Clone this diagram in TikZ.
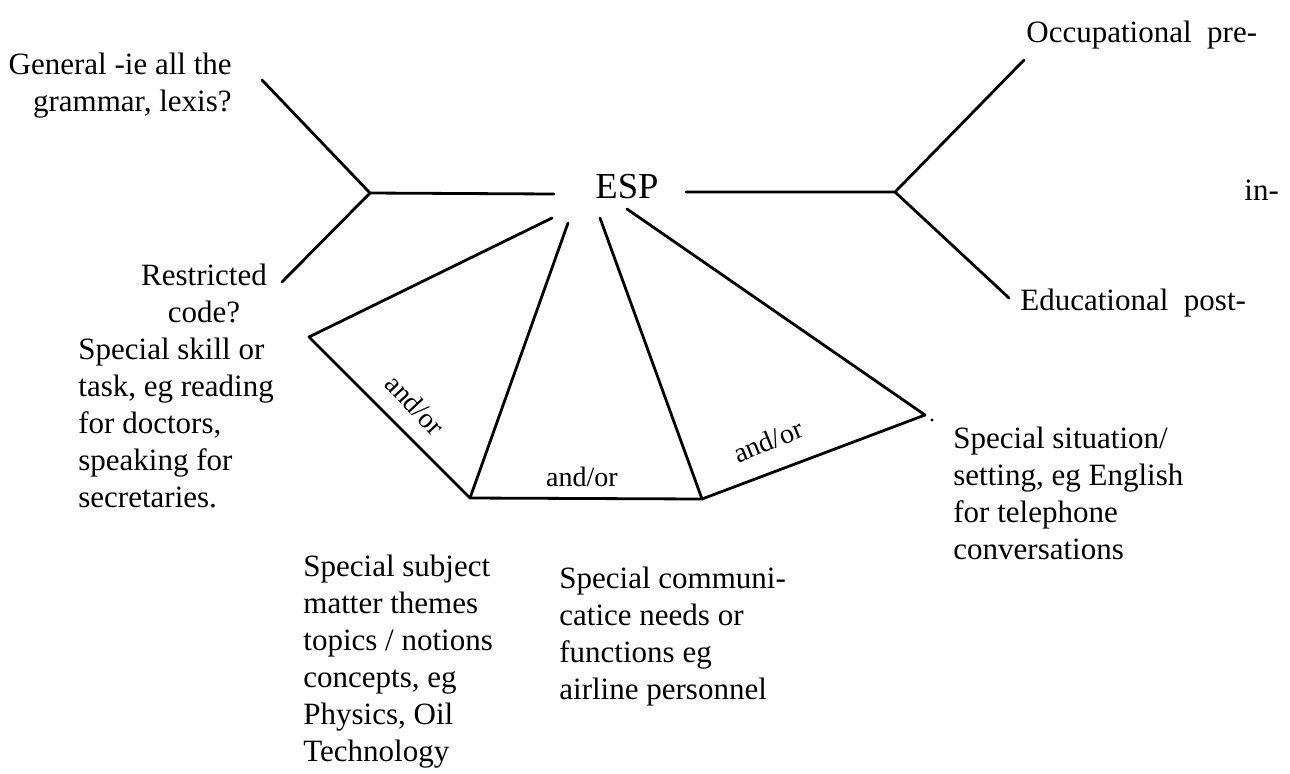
\documentclass[tikz,border=0pt]{standalone}
\usepackage{fontspec}
\setmainfont{Liberation Serif}
\usepackage{tikz}
\usetikzlibrary{positioning}
\tikzset{
  stroke/.style={line width=1.4pt, line cap=round, line join=round},
  lbl/.style={inner sep=0pt, font=\fontsize{15.5}{18.5}\selectfont},
  andor/.style={inner sep=0pt, font=\fontsize{14}{16}\selectfont},
}
\begin{document}
\begin{tikzpicture}[x=0.5pt, y=-0.5pt]
\useasboundingbox (0,0) rectangle (1290,773);
\node[inner sep=0pt, font=\fontsize{18.3}{22}\selectfont] (esp) at (627,187) {ESP};
\node[lbl, anchor=east, align=right] (general) at (232,86) {General -ie all the\\grammar, lexis?};
\node[lbl, align=center] (restricted) at (204,293) {Restricted\\code?};
\node[lbl, anchor=west, align=left] (skill) at (78,423) {Special skill or\\task, eg reading\\for doctors,\\speaking for\\secretaries.};
\node[lbl, anchor=west, align=left] (subject) at (303,662) {Special subject\\matter themes\\topics / notions\\concepts, eg\\Physics, Oil\\Technology};
\node[lbl, anchor=west, align=left] (commun) at (559,637) {Special communi-\\catice needs or\\functions eg\\airline personnel};
\node[lbl, anchor=west, align=left] (situation) at (953,493) {Special situation/\\setting, eg English\\for telephone\\conversations};
\node[lbl, anchor=west] (occup) at (1026,35) {Occupational\ \ pre-};
\node[lbl, anchor=west] (inn) at (1244,190) {in-};
\node[lbl, anchor=west] (educ) at (1020,303) {Educational\ \ post-};
\coordinate (ltop) at (262,80);
\coordinate (lfork) at (370,193);
\coordinate (lbot) at (282,282);
\coordinate (lend) at (554,194);
\coordinate (rbeg) at (686,192);
\coordinate (rfork) at (895,192);
\coordinate (rtop) at (1024,60);
\coordinate (rbot) at (1009,298);
\coordinate (s1) at (552,218);
\coordinate (s2) at (568,223);
\coordinate (s3) at (600,218);
\coordinate (s4) at (627,209);
\coordinate (va) at (309,337);
\coordinate (vb) at (470,498);
\coordinate (vc) at (702,499);
\coordinate (vd) at (925,415);
\draw[stroke] (ltop) -- (lfork) -- (lend);
\draw[stroke] (lfork) -- (lbot);
\draw[stroke] (rbeg) -- (rfork) -- (rtop);
\draw[stroke] (rfork) -- (rbot);
\draw[stroke] (s1) -- (va) -- (vb) -- (vc) -- (vd) -- (s4);
\draw[stroke] (s2) -- (vb);
\draw[stroke] (s3) -- (vc);
\node[circle, fill, inner sep=0.6pt] (dot) at (932,420) {};
\node[andor, rotate=-47] (ao1) at (415,405) {and/or};
\node[andor] (ao2) at (582,477) {and/or};
\node[andor, rotate=22] (ao3) at (768,441) {and/or};
\end{tikzpicture}
\end{document}
